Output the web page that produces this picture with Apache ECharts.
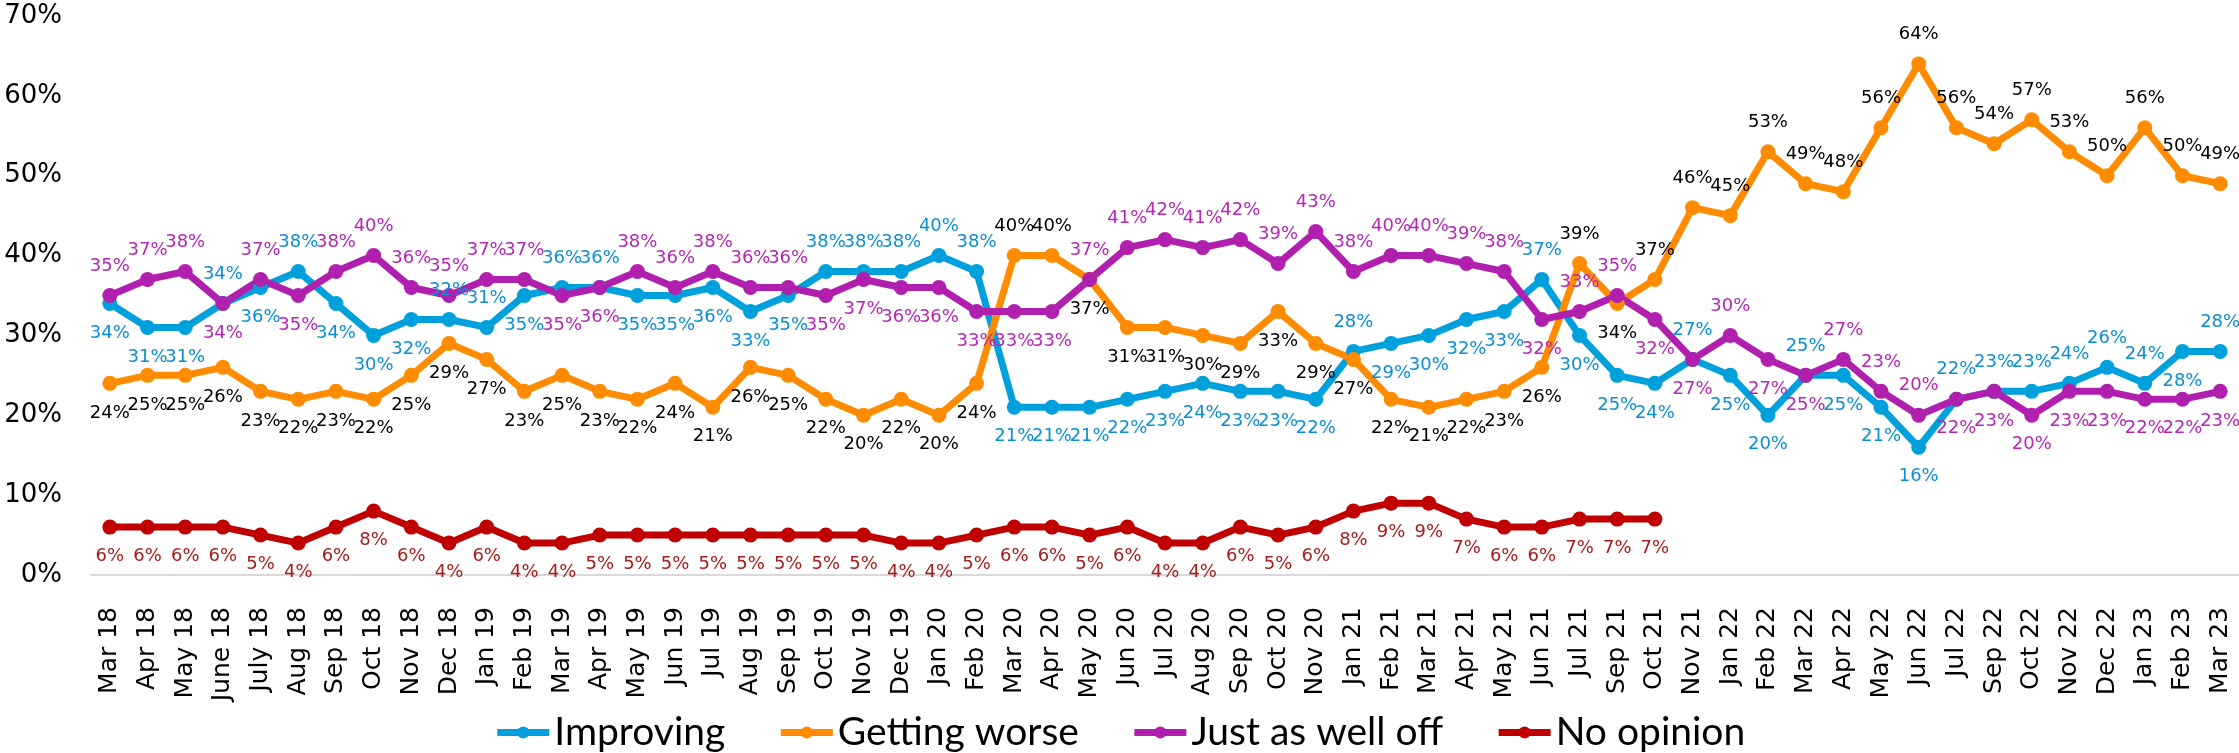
<!DOCTYPE html>
<html>
<head>
<meta charset="utf-8">
<script src="https://cdn.jsdelivr.net/npm/echarts@6/dist/echarts.min.js"></script>
<style>
  html, body { margin: 0; padding: 0; background: #fff; }
  #chart { width: 2239px; height: 753px; }
</style>
</head>
<body>
<div id="chart"></div>
<script>
// months surveyed
const months = [
  'Mar 18', 'Apr 18', 'May 18', 'June 18', 'July 18', 'Aug 18', 'Sep 18', 'Oct 18', 'Nov 18', 'Dec 18',
  'Jan 19', 'Feb 19', 'Mar 19', 'Apr 19', 'May 19', 'Jun 19', 'Jul 19', 'Aug 19', 'Sep 19', 'Oct 19', 'Nov 19', 'Dec 19',
  'Jan 20', 'Feb 20', 'Mar 20', 'Apr 20', 'May 20', 'Jun 20', 'Jul 20', 'Aug 20', 'Sep 20', 'Oct 20', 'Nov 20',
  'Jan 21', 'Feb 21', 'Mar 21', 'Apr 21', 'May 21', 'Jun 21', 'Jul 21', 'Sep 21', 'Oct 21', 'Nov 21',
  'Jan 22', 'Feb 22', 'Mar 22', 'Apr 22', 'May 22', 'Jun 22', 'Jul 22', 'Sep 22', 'Oct 22', 'Nov 22', 'Dec 22',
  'Jan 23', 'Feb 23', 'Mar 23'
]

const improving = [
  34, 31, 31, 34, 36, 38, 34, 30, 32, 32,
  31, 35, 36, 36, 35, 35, 36, 33, 35, 38, 38, 38,
  40, 38, 21, 21, 21, 22, 23, 24, 23, 23, 22,
  28, 29, 30, 32, 33, 37, 30, 25, 24, 27,
  25, 20, 25, 25, 21, 16, 22, 23, 23, 24, 26,
  24, 28, 28
]

const gettingWorse = [
  24, 25, 25, 26, 23, 22, 23, 22, 25, 29,
  27, 23, 25, 23, 22, 24, 21, 26, 25, 22, 20, 22,
  20, 24, 40, 40, 37, 31, 31, 30, 29, 33, 29,
  27, 22, 21, 22, 23, 26, 39, 34, 37, 46,
  45, 53, 49, 48, 56, 64, 56, 54, 57, 53, 50,
  56, 50, 49
]

const justAsWellOff = [
  35, 37, 38, 34, 37, 35, 38, 40, 36, 35,
  37, 37, 35, 36, 38, 36, 38, 36, 36, 35, 37, 36,
  36, 33, 33, 33, 37, 41, 42, 41, 42, 39, 43,
  38, 40, 40, 39, 38, 32, 33, 35, 32, 27,
  30, 27, 25, 27, 23, 20, 22, 23, 20, 23, 23,
  22, 22, 23
]

const noOpinion = [
  6, 6, 6, 6, 5, 4, 6, 8, 6, 4,
  6, 4, 4, 5, 5, 5, 5, 5, 5, 5, 5, 4,
  4, 5, 6, 6, 5, 6, 4, 4, 6, 5, 6,
  8, 9, 9, 7, 6, 6, 7, 7, 7, null,
  null, null, null, null, null, null, null, null, null, null, null,
  null, null, null
]

const yTicks = [0, 10, 20, 30, 40, 50, 60, 70]

// put the label of the highest line above, lowest below, the middle one depending on gaps
function labelSides () {
  const sides = { imp: [], just: [], worse: [] }
  months.forEach((m, i) => {
    const list = [
      { k: 'imp', v: improving[i] },
      { k: 'just', v: justAsWellOff[i] },
      { k: 'worse', v: gettingWorse[i] }
    ]
    list.sort((a, b) => b.v - a.v)
    sides[list[0].k][i] = 'top'
    sides[list[2].k][i] = 'bottom'
    sides[list[1].k][i] = (list[1].v - list[2].v) >= 6 ? 'bottom' : 'top'
  })
  return sides
}

const sides = labelSides()

function withSides (arr, side) {
  return arr.map((v, i) => ({ value: v, label: { position: side[i] } }))
}

function lineSeries (name, data, color, labelColor) {
  return {
    name: name,
    type: 'line',
    data: data,
    symbol: 'circle',
    symbolSize: 15,
    lineStyle: { color: color, width: 7 },
    itemStyle: { color: color },
    label: {
      show: true,
      position: 'bottom',
      distance: 13,
      color: labelColor,
      fontFamily: 'DejaVu Sans',
      fontSize: 18,
      formatter: p => p.value + '%'
    },
    emphasis: { disabled: true }
  }
}

const myChart = echarts.init(document.getElementById('chart'))
const option = {
  animation: false,
  backgroundColor: '#fff',
  grid: { left: 91, right: -7, top: 16, bottom: 178, containLabel: false },
  legend: {
    left: 'center',
    top: 708,
    itemWidth: 52,
    itemHeight: 15,
    itemGap: 52,
    lineStyle: { width: 7 },
    textStyle: { fontFamily: 'Lato', fontSize: 39, color: '#000' },
    data: ['Improving', 'Getting worse', 'Just as well off', 'No opinion']
  },
  xAxis: {
    type: 'category',
    data: months,
    boundaryGap: true,
    axisLine: { lineStyle: { color: '#d9d9d9', width: 2 } },
    axisTick: { show: false },
    axisLabel: {
      interval: 0,
      rotate: 90,
      margin: 32,
      color: '#000',
      fontFamily: 'DejaVu Sans',
      fontSize: 25
    }
  },
  yAxis: {
    type: 'value',
    min: yTicks[0],
    max: yTicks[yTicks.length - 1],
    interval: 10,
    axisLine: { show: false },
    axisTick: { show: false },
    splitLine: { show: false },
    axisLabel: {
      margin: 29,
      color: '#000',
      fontFamily: 'DejaVu Sans',
      fontSize: 26,
      formatter: '{value}%'
    }
  },
  series: [
    lineSeries('Improving', withSides(improving, sides.imp), '#00a0dc', '#0b8fd0'),
    lineSeries('Getting worse', withSides(gettingWorse, sides.worse), '#ff8c00', '#000'),
    lineSeries('Just as well off', withSides(justAsWellOff, sides.just), '#b01fae', '#b526b5'),
    lineSeries('No opinion', noOpinion, '#c00000', '#a51c1c')
  ]
}
myChart.setOption(option)
</script>
</body>
</html>
